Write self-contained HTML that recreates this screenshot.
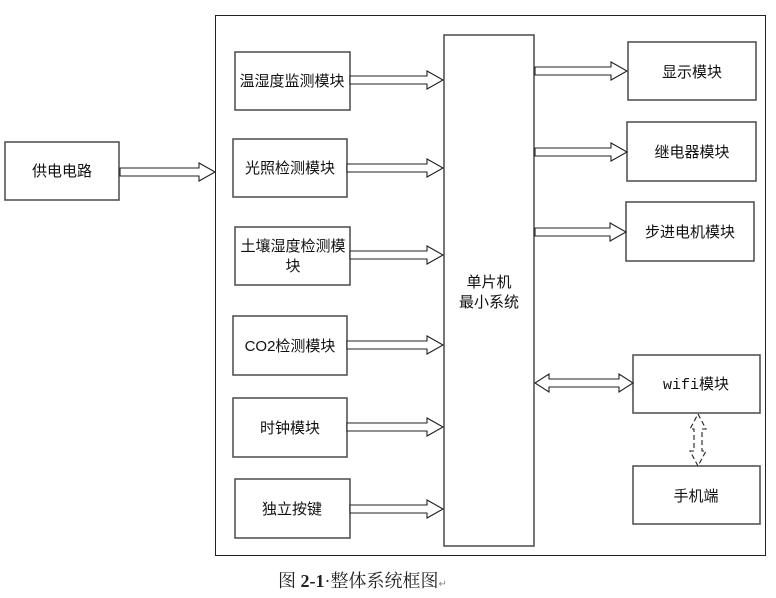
<!DOCTYPE html>
<html><head><meta charset="utf-8"><style>
html,body{margin:0;padding:0;background:#fff;}
svg{display:block;}
text{font-family:"Liberation Sans","Noto Sans CJK SC",sans-serif;font-size:15px;fill:#111;}
.b{fill:#fff;stroke:#555;stroke-width:1.6;}
.a{fill:#fff;stroke:#222;stroke-width:1.1;}
</style></head><body>
<svg width="776" height="598" viewBox="0 0 776 598" xmlns="http://www.w3.org/2000/svg">
<rect x="215.5" y="15.5" width="550" height="540" fill="#fff" stroke="#222" stroke-width="1"/>
<rect class="b" x="5" y="142" width="114" height="58"/>
<text x="62" y="176" text-anchor="middle">供电电路</text>

<rect class="b" x="235" y="52" width="115" height="58"/>
<text x="292" y="86" text-anchor="middle">温湿度监测模块</text>
<rect class="b" x="233" y="139" width="114" height="58"/>
<text x="290" y="173" text-anchor="middle">光照检测模块</text>
<rect class="b" x="235" y="227" width="115" height="58"/>
<text x="293" y="251" text-anchor="middle">土壤湿度检测模</text>
<text x="293" y="271" text-anchor="middle">块</text>
<rect class="b" x="233" y="316" width="114" height="59"/>
<text x="290" y="351" text-anchor="middle">CO2检测模块</text>
<rect class="b" x="233" y="398" width="114" height="59"/>
<text x="290" y="433" text-anchor="middle">时钟模块</text>
<rect class="b" x="235" y="479" width="115" height="59"/>
<text x="292" y="514" text-anchor="middle">独立按键</text>

<rect class="b" x="444" y="35" width="90" height="511"/>
<text x="489" y="287" text-anchor="middle">单片机</text>
<text x="489" y="307" text-anchor="middle">最小系统</text>

<rect class="b" x="628" y="42" width="128" height="58"/>
<text x="692" y="77" text-anchor="middle">显示模块</text>
<rect class="b" x="627" y="122" width="129" height="59"/>
<text x="692" y="157" text-anchor="middle">继电器模块</text>
<rect class="b" x="626" y="202" width="128" height="59"/>
<text x="690" y="237" text-anchor="middle">步进电机模块</text>
<rect class="b" x="633" y="355" width="127" height="58"/>
<text x="696" y="389" text-anchor="middle"><tspan style="font-family:'Liberation Mono',monospace">wifi</tspan>模块</text>
<rect class="b" x="633" y="466" width="127" height="58"/>
<text x="696" y="501" text-anchor="middle">手机端</text>

<g class="a">
<polygon class="a" points="120,168 199,168 199,163 215,172 199,181 199,176 120,176"/>
<polygon class="a" points="350,76 427,76 427,71 443,80 427,89 427,84 350,84"/>
<polygon class="a" points="347,164 427,164 427,159 443,168 427,177 427,172 347,172"/>
<polygon class="a" points="350,251 427,251 427,246 443,255 427,264 427,259 350,259"/>
<polygon class="a" points="347,341 427,341 427,336 443,345 427,354 427,349 347,349"/>
<polygon class="a" points="347,423 427,423 427,418 443,427 427,436 427,431 347,431"/>
<polygon class="a" points="350,505 427,505 427,500 443,509 427,518 427,513 350,513"/>
<polygon class="a" points="535,67 611,67 611,62 627,71 611,80 611,75 535,75"/>
<polygon class="a" points="535,148 611,148 611,143 627,152 611,161 611,156 535,156"/>
<polygon class="a" points="535,228 610,228 610,223 626,232 610,241 610,236 535,236"/>
<polygon class="a" points="535,383 549,374 549,379 619,379 619,374 633,383 619,392 619,387 549,387 549,392"/>
<polygon points="698,414 706,429 702,429 702,451 706,451 698,466 690,451 694,451 694,429 690,429" fill="#fff" stroke="#222" stroke-width="1.1" stroke-dasharray="5,3"/>
</g>

<text x="278" y="587" style="font-family:'Liberation Serif','Noto Serif CJK SC',serif;font-size:18px;fill:#222">图 <tspan font-weight="bold">2-1</tspan>·整体系统框图<tspan font-size="10" fill="#888">↵</tspan></text>
</svg>
</body></html>
